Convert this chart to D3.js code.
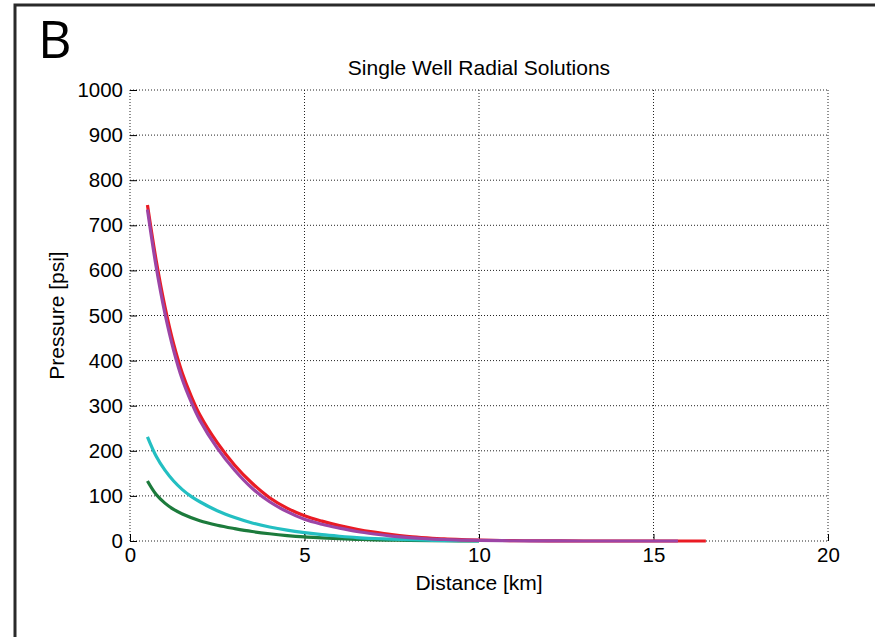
<!DOCTYPE html>
<html>
<head>
<meta charset="utf-8">
<script src="https://cdn.jsdelivr.net/npm/d3@7"></script>
<style>
  body { margin: 0; background: #fff; }
  text { font-family: "Liberation Sans", Arial, sans-serif; fill: #000; }
</style>
</head>
<body>
<div id="chart"></div>
<script>
//
// Single well radial solutions: pressure vs distance
//

var distRed    = [0.5, 0.75, 1.0, 1.25, 1.5, 1.75, 2.0, 2.5, 3.0, 3.5, 4.0, 4.5, 5.0, 5.5, 6.0, 6.5, 7.0, 7.5, 8.0, 8.5, 9.0, 9.5, 10, 11, 12, 13, 16.5];
var presRed    = [745, 622, 520, 437, 372, 322, 280, 218, 168, 128, 96, 73, 56, 44, 34, 26, 19.5, 14, 10, 7, 4.5, 3, 2, 0.8, 0.3, 0, 0];

var distPurple = [0.5, 0.75, 1.0, 1.25, 1.5, 1.75, 2.0, 2.5, 3.0, 3.5, 4.0, 4.5, 5.0, 5.5, 6.0, 6.5, 7.0, 7.5, 8.0, 8.5, 9.0, 9.5, 10, 11, 12, 13, 15.7];
var presPurple = [735, 608, 505, 423, 358, 309, 268, 206, 157, 117, 87, 65, 48, 37, 28.5, 21, 15.5, 11, 7.5, 5, 3.3, 2.1, 1.3, 0.5, 0.2, 0, 0];

var distCyan   = [0.5, 0.75, 1.0, 1.25, 1.5, 1.75, 2.0, 2.5, 3.0, 3.5, 4.0, 4.5, 5.0, 5.5, 6.0, 6.5, 7.0, 7.5, 8.0, 8.5, 9.0, 10];
var presCyan   = [231, 188, 157, 133, 114, 99, 87, 67, 52, 40, 31, 24, 18.5, 14, 10.5, 7.5, 5.5, 4, 2.8, 1.8, 1, 0.2];

var distGreen  = [0.5, 0.75, 1.0, 1.25, 1.5, 2.0, 2.5, 3.0, 3.5, 4.0, 4.5, 5.0, 5.5, 6.0, 6.5, 7.0, 7.5, 8.0, 9.0, 10];
var presGreen  = [133, 103, 84, 70, 60, 45, 35, 27.5, 21, 16, 12, 9, 7, 5.2, 3.8, 2.7, 1.9, 1.3, 0.5, 0];

var xTicks = [0, 5, 10, 15, 20];
var yTicks = [0, 100, 200, 300, 400, 500, 600, 700, 800, 900, 1000];

var titleText = "Single Well Radial Solutions";
var xLabel = "Distance [km]";
var yLabel = "Pressure [psi]";
var panelLetter = "B";

//
// sizes
//

var W = 875, H = 637;
var margin = {top: 90, right: 47, bottom: 96, left: 130};
var width = W - margin.left - margin.right;
var height = H - margin.top - margin.bottom;

var x = d3.scaleLinear().domain([0, 20]).range([0, width]);
var y = d3.scaleLinear().domain([0, 1000]).range([height, 0]);

var svg = d3.select("#chart").append("svg")
	.attr("width", W)
	.attr("height", H);

// outer panel frame (continues past the picture on right and bottom)
svg.append("rect")
	.attr("x", 15)
	.attr("y", 5)
	.attr("width", W + 20)
	.attr("height", H + 20)
	.style("fill", "none")
	.style("stroke", "#2a2a2a")
	.style("stroke-width", 3);

svg.append("text")
	.attr("x", 38)
	.attr("y", 58)
	.style("font-family", "'Open Sans', Lato, sans-serif")
	.style("font-size", "52px")
	.text(panelLetter);

var g = svg.append("g")
	.attr("transform", "translate(" + margin.left + "," + margin.top + ")");

//
// grid (dotted), including the axis lines themselves
//

g.selectAll(".hgrid")
	.data(yTicks)
	.enter().append("line")
	.attr("x1", 0)
	.attr("x2", width)
	.attr("y1", function(d) { return y(d); })
	.attr("y2", function(d) { return y(d); })
	.style("stroke", "#222")
	.style("stroke-width", 1)
	.style("stroke-dasharray", "1,2");

g.selectAll(".vgrid")
	.data(xTicks)
	.enter().append("line")
	.attr("y1", 0)
	.attr("y2", height)
	.attr("x1", function(d) { return x(d); })
	.attr("x2", function(d) { return x(d); })
	.style("stroke", "#222")
	.style("stroke-width", 1)
	.style("stroke-dasharray", "1,2");

//
// axes with inward ticks
//

var xAxis = g.append("g")
	.attr("transform", "translate(0," + height + ")")
	.call(d3.axisBottom(x).tickValues(xTicks).tickFormat(d3.format("d"))
		.tickSizeInner(-7).tickSizeOuter(0).tickPadding(4));
var yAxis = g.append("g")
	.call(d3.axisLeft(y).tickValues(yTicks).tickFormat(d3.format("d"))
		.tickSizeInner(-7).tickSizeOuter(0).tickPadding(0));

xAxis.selectAll("text").attr("y", 6);
yAxis.selectAll("text").attr("x", -7);

[xAxis, yAxis].forEach(function(a) {
	a.select(".domain").remove();
	a.selectAll("line").style("stroke", "#000").style("stroke-width", 1);
	a.selectAll("text")
		.style("font-family", "'Liberation Sans', Arial, sans-serif")
		.style("font-size", "20.5px")
		.style("fill", "#000");
});

//
// curves
//

function toPoints(xs, ys) {
	return xs.map(function(d, i) { return {x: d, y: ys[i]}; });
}

var line = d3.line()
	.curve(d3.curveCatmullRom.alpha(0.5))
	.x(function(d) { return x(d.x); })
	.y(function(d) { return y(d.y); });

var series = [
	{pts: toPoints(distGreen, presGreen), color: "#1c7b3c"},
	{pts: toPoints(distCyan, presCyan), color: "#23bfc2"},
	{pts: toPoints(distRed, presRed), color: "#ea1b24"},
	{pts: toPoints(distPurple, presPurple), color: "#9c45a6"}
];

series.forEach(function(s) {
	g.append("path")
		.attr("d", line(s.pts))
		.style("fill", "none")
		.style("stroke", s.color)
		.style("stroke-width", 3.2)
		.style("stroke-linejoin", "round");
});

//
// title and axis labels
//

g.append("text")
	.attr("x", width / 2)
	.attr("y", -15)
	.attr("text-anchor", "middle")
	.style("font-size", "21px")
	.text(titleText);

g.append("text")
	.attr("x", width / 2)
	.attr("y", height + 49)
	.attr("text-anchor", "middle")
	.style("font-size", "21px")
	.text(xLabel);

g.append("text")
	.attr("transform", "translate(-66," + (height / 2) + ") rotate(-90)")
	.attr("text-anchor", "middle")
	.style("font-size", "21px")
	.text(yLabel);
</script>
</body>
</html>
